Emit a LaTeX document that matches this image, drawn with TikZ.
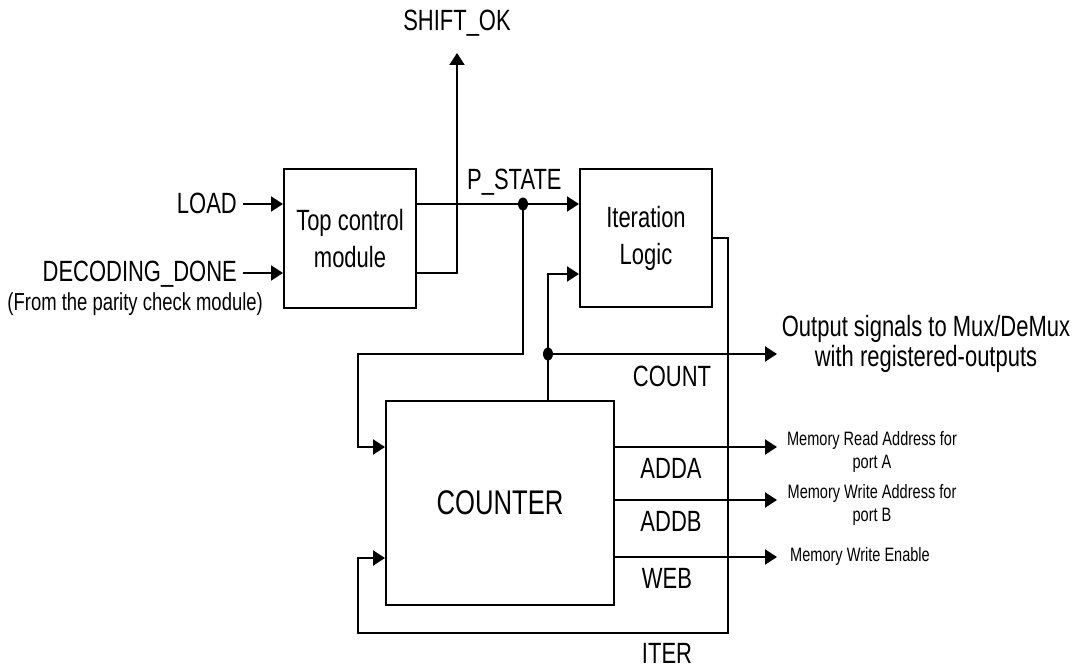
\documentclass[tikz,border=0pt]{standalone}
\usepackage{fontspec}
\setmainfont{Liberation Sans}[FakeStretch=0.75]
\usetikzlibrary{arrows.meta,positioning,calc,shapes.geometric}

\tikzset{
  blk/.style={draw,line width=2pt,inner sep=0pt,align=center},
  wire/.style={line width=2pt},
  sig/.style={wire,-{Triangle[length=12pt,width=15pt]}},
  lbl/.style={inner sep=0pt,align=center,font=\fontsize{29.3}{37}\selectfont},
  mem/.style={inner sep=0pt,align=center,font=\fontsize{19.4}{23}\selectfont},
  jn/.style={ellipse,fill,inner sep=0pt,minimum width=10pt,minimum height=13pt}
}

\begin{document}
\begin{tikzpicture}[x=1pt,y=-1pt]
  \useasboundingbox (0,0) rectangle (1076,669);
  % blocks
  \node[blk,lbl,minimum width=132pt,minimum height=139pt] (top) at (350,238.5) {Top control\\module};
  \node[blk,lbl,minimum width=132pt,minimum height=138pt] (iter) at (646,238) {Iteration\\Logic};
  \node[blk,minimum width=228pt,minimum height=204pt,font=\fontsize{34.2}{40}\selectfont] (counter) at (500,503) {COUNTER};

  % inputs
  \node[lbl,anchor=east] (load) at (237,203) {LOAD};
  \node[lbl,anchor=east] (dec) at (237,274) {DECODING\_DONE};
  \node[inner sep=0pt,anchor=east,font=\fontsize{24.6}{28}\selectfont] (src) at (263,304) {(From the parity check module)};
  \draw[sig] ([xshift=6pt]load.east |- 0,204) -- (top.west |- 0,204);
  \draw[sig] ([xshift=6pt]dec.east |- 0,273) -- (top.west |- 0,273);

  % top control outputs
  \node[lbl] (ok) at (457,23) {SHIFT\_OK};
  \coordinate (okin) at (457,53);
  \draw[sig] (top.east |- 0,273) -| (okin);
  \node[jn] (j1) at (523,204) {};
  \draw[sig] (top.east |- j1) -- (iter.west |- j1);
  \node[lbl,anchor=base west] (pst) at (467,189) {P\_STATE};

  % feedback into counter
  \coordinate (lft) at (358,354);
  \draw[sig] (j1.center) |- (lft) |- (counter.west |- 0,447);
  \node[jn] (j2) at (548,354) {};
  \draw[sig] (counter.north -| j2) |- (iter.west |- 0,274);
  \coordinate (cnt) at (777,354);
  \draw[sig] (j2.center) -- (cnt);
  \node[lbl] (cntl) at (672,376) {COUNT};
  \node[lbl,font=\fontsize{29.3}{30}\selectfont] (out) at (926,344) {Output signals to Mux/DeMux\\with registered-outputs};

  % iteration loop
  \coordinate (itr) at (728,633);
  \draw[sig] (iter.east) -| (itr) -| (358,558) -- (counter.west |- 0,558);
  \node[lbl] (iterl) at (667,653) {ITER};

  % counter outputs
  \draw[sig] (counter.east |- 0,447) -- (777,447);
  \draw[sig] (counter.east |- 0,500) -- (777,500);
  \draw[sig] (counter.east |- 0,557) -- (777,557);
  \node[lbl] (adda) at (671,468) {ADDA};
  \node[lbl] (addb) at (671,521) {ADDB};
  \node[lbl] (web) at (667,578) {WEB};
  \node[mem] (rda) at (872,451.5) {Memory Read Address for\\port A};
  \node[mem] (wrb) at (872,505) {Memory Write Address for\\port B};
  \node[mem,anchor=west] (wen) at (790,556) {Memory Write Enable};
\end{tikzpicture}
\end{document}
